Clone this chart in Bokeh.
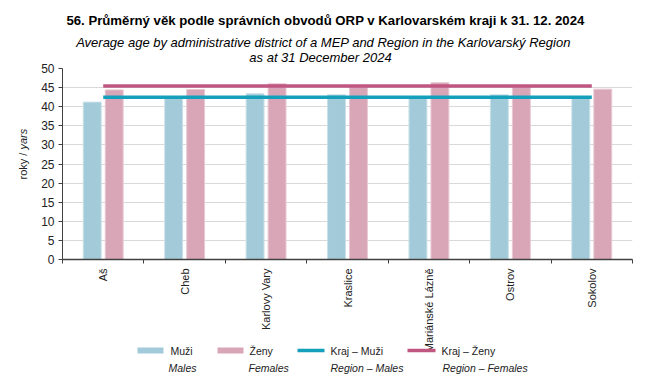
import math
from bokeh.plotting import figure
from bokeh.layouts import column, row
from bokeh.models import ColumnDataSource, FixedTicker, Range1d
from bokeh.core.properties import value
from bokeh.embed import file_html
from bokeh.resources import INLINE

# ---- data ----
districts = ["Aš", "Cheb", "Karlovy Vary", "Kraslice", "Mariánské Lázně", "Ostrov", "Sokolov"]
males = [41.2, 42.3, 43.4, 43.1, 42.4, 43.1, 42.2]
females = [44.4, 44.5, 46.0, 45.5, 46.3, 45.4, 44.6]
region_males = 42.5
region_females = 45.4
y_ticks = [0, 5, 10, 15, 20, 25, 30, 35, 40, 45, 50]

title_cs = "56. Průměrný věk podle správních obvodů ORP v Karlovarském kraji k 31. 12. 2024"
title_en1 = "Average age by administrative district of a MEP and Region in the Karlovarský Region"
title_en2 = "as at 31 December 2024"
ylabel_cs = "roky / "
ylabel_en = "yars"
legend_cs = ["Muži", "Ženy", "Kraj – Muži", "Kraj – Ženy"]
legend_en = ["Males", "Females", "Region – Males", "Region – Females"]

C_M = "#A3CAD8"
C_F = "#D9A6B7"
C_RM = "#14A0BB"
C_RF = "#BF5780"
FONT = value("Liberation Sans")
TXT = "#222222"
AX = "#404040"

TOTAL_W = 644
TOP_H = 63
YLAB_W = 30
FRAME_L, FRAME_R = 62, 632          # page x of the plotting frame
FRAME_T, FRAME_B = 68, 259          # page y of the plotting frame
MAIN_B = FRAME_B + 8                # bottom of the main canvas (ticks + "0" label)
MAIN_H = MAIN_B - TOP_H
BELOW_H = 382 - MAIN_B
BL, BR = FRAME_L, TOTAL_W - FRAME_R  # borders shared by the stacked canvases


def aux(width, height, xr, yr, left, right, top_b, bottom_b):
    f = figure(width=width, height=height, output_backend="svg", toolbar_location=None,
               x_range=xr, y_range=yr, x_axis_type=None, y_axis_type=None,
               min_border_left=left, min_border_right=right,
               min_border_top=top_b, min_border_bottom=bottom_b,
               outline_line_color=None)
    f.grid.grid_line_color = None
    return f


# ---- title block (x in page px) ----
top = aux(TOTAL_W, TOP_H, Range1d(FRAME_L, FRAME_R), Range1d(0, TOP_H), BL, BR, 0, 0)
ty = lambda py: TOP_H - py
top.text(x=[325], y=[ty(20)], text=[title_cs], text_font=FONT, text_font_size="13.2px",
         text_font_style="bold", text_align="center", text_baseline="middle",
         text_color="#000000")
top.text(x=[323, 320], y=[ty(41.5), ty(56.5)], text=[title_en1, title_en2], text_font=FONT,
         text_font_size="13px", text_font_style="italic", text_align="center",
         text_baseline="middle", text_color="#000000")

# ---- y axis title (y measured up from the frame bottom) ----
ylab = aux(YLAB_W, MAIN_H, Range1d(0, YLAB_W), Range1d(0, FRAME_B - FRAME_T),
           0, 0, FRAME_T - TOP_H, MAIN_B - FRAME_B)
yy = lambda py: FRAME_B - py
ylab.text(x=[22.5], y=[yy(179)], text=[ylabel_cs], angle=math.pi / 2, text_font=FONT,
          text_font_size="11px", text_align="left", text_baseline="middle", text_color=TXT)
ylab.text(x=[22.5], y=[yy(149)], text=[ylabel_en], angle=math.pi / 2, text_font=FONT,
          text_font_size="11px", text_font_style="italic", text_align="left",
          text_baseline="middle", text_color=TXT)

# ---- main chart ----
n = len(districts)
centers = [i + 0.5 for i in range(n)]
bounds = list(range(n + 1))
off = 0.135
bw = 0.22
xr = Range1d(0, n)

src = ColumnDataSource(dict(
    xm=[c - off for c in centers], xf=[c + off for c in centers],
    m=males, f=females))

p = figure(width=TOTAL_W - YLAB_W, height=MAIN_H, output_backend="svg",
           toolbar_location=None, x_range=xr, y_range=Range1d(0, 50),
           min_border_left=FRAME_L - YLAB_W, min_border_right=BR,
           min_border_top=FRAME_T - TOP_H, min_border_bottom=MAIN_B - FRAME_B,
           outline_line_color=None)

p.vbar(x="xm", top="m", width=bw, source=src, fill_color=C_M,
       line_color="#C9E0E8", line_width=1)
p.vbar(x="xf", top="f", width=bw, source=src, fill_color=C_F,
       line_color="#E8C9D3", line_width=1)
p.line(x=[centers[0], centers[-1]], y=[region_males] * 2, line_color=C_RM, line_width=3.5)
p.line(x=[centers[0], centers[-1]], y=[region_females] * 2, line_color=C_RF, line_width=3.5)

p.yaxis.ticker = FixedTicker(ticks=y_ticks)
p.yaxis.major_label_text_font = "Liberation Sans"
p.yaxis.major_label_text_font_size = "12px"
p.yaxis.major_label_text_color = TXT
p.yaxis.axis_line_color = AX
p.yaxis.major_tick_line_color = AX
p.yaxis.major_tick_out = 4
p.yaxis.major_tick_in = 0
p.yaxis.minor_tick_line_color = None
p.yaxis.major_label_standoff = 4

# category boundaries as (minor) tick marks; the names are drawn below
p.xaxis.ticker = FixedTicker(ticks=[], minor_ticks=bounds)
p.xaxis.major_tick_line_color = None
p.xaxis.minor_tick_line_color = AX
p.xaxis.minor_tick_out = 4
p.xaxis.minor_tick_in = 0
p.xaxis.major_label_standoff = 0
p.xaxis.axis_line_color = AX
p.xaxis.axis_line_width = 1.5

p.xgrid.grid_line_color = None
p.ygrid.grid_line_color = "#D9D9D9"
p.ygrid.ticker = FixedTicker(ticks=y_ticks)

# ---- category labels + legend block (shares the x range of the chart) ----
below = aux(TOTAL_W, BELOW_H, xr, Range1d(0, BELOW_H), BL, BR, 0, 0)
by = lambda py: 382 - py
bx = lambda px: (px - FRAME_L) / (FRAME_R - FRAME_L) * n

below.text(x=centers, y=[by(268)] * n, text=districts, angle=math.pi / 2, text_font=FONT,
           text_font_size="11px", text_align="right", text_baseline="middle",
           text_color=TXT)

below.quad(left=[bx(137), bx(217)], right=[bx(163), bx(243)],
           top=[by(347), by(347)], bottom=[by(353), by(353)],
           fill_color=[C_M, C_F], line_color=None)
below.segment(x0=[bx(297), bx(407)], x1=[bx(324), bx(435)],
              y0=[by(350)] * 2, y1=[by(350)] * 2,
              line_color=[C_RM, C_RF], line_width=3.5)
below.text(x=[bx(v) for v in (170, 249, 330, 441)], y=[by(350)] * 4, text=legend_cs,
           text_font=FONT, text_font_size="10.5px", text_align="left",
           text_baseline="middle", text_color=TXT)
below.text(x=[bx(v) for v in (168, 248, 330, 442)], y=[by(367)] * 4, text=legend_en,
           text_font=FONT, text_font_size="10.5px", text_font_style="italic",
           text_align="left", text_baseline="middle", text_color=TXT)

layout = column(top, row(ylab, p, spacing=0), below, spacing=0)
open("out.html", "w").write(file_html(layout, INLINE))
